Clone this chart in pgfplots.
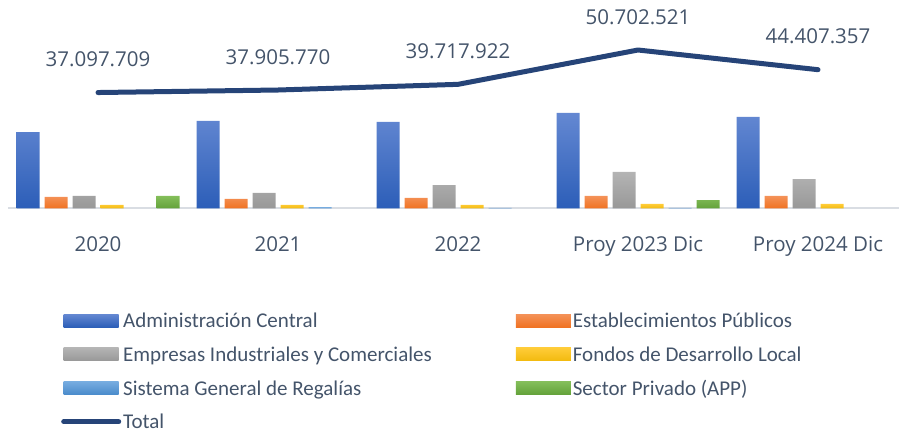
\documentclass[border=0pt]{standalone}
\usepackage{pgfplots}
\pgfplotsset{compat=1.18}
\usepackage{pgfplotstable}
\usepackage{fontspec}
\setmainfont{Carlito}
\newfontfamily\tickfont{Open Sans}
\definecolor{lab}{HTML}{44546A}
\definecolor{axisgray}{HTML}{D9DDE3}
\definecolor{totalc}{HTML}{264478}

\pgfplotsset{
  barlegend/.style={legend image code/.code={\path[##1, draw=none] (0pt,-6.5pt) rectangle (55pt,6.5pt);}},
  linelegend/.style={legend image code/.code={\draw[##1] (0pt,0pt) -- (55pt,0pt);}},
}

\pgfplotstableread{
x y lab
0 37.097709 37.097.709
1 37.905770 37.905.770
2 39.717922 39.717.922
3 50.702521 50.702.521
4 44.407357 44.407.357
}\totaltab

\begin{document}
\begin{tikzpicture}
\begin{axis}[name=ax, scale only axis, width=891pt, height=208.5pt,
  xmin=-0.5, xmax=4.45, ymin=0, ymax=66.7, enlargelimits=false, clip=false,
  ybar=5pt, bar width=23pt,
  axis x line*=bottom, axis y line=none,
  x axis line style={draw=axisgray, line width=2pt},
  xtick={0,1,2,3,4},
  xticklabels={2020,2021,2022,Proy 2023 Dic,Proy 2024 Dic},
  xtick style={draw=none}, ytick=\empty,
  xticklabel style={font=\tickfont\fontsize{20.5}{24}\selectfont, text=lab, anchor=base, yshift=-38.5pt},
  legend columns=2, legend cell align=left,
  legend style={draw=none, fill=none, at={(0,0)}, anchor=north west, xshift=50pt, yshift=-100pt,
    font=\fontsize{21}{25}\selectfont, text=lab, row sep=13.7pt,
    nodes={text height=15pt, text depth=1pt, inner sep=2pt},
    /tikz/every even column/.append style={column sep=82pt}},
  every axis plot/.append style={draw=none},
  barlegend,
]
\addplot[top color={rgb,255:red,100;green,136;blue,210}, bottom color={rgb,255:red,44;green,94;blue,184}]
 coordinates {(0,24.4) (1,28.0) (2,27.7) (3,30.6) (4,29.3)};
\addlegendentry{Administración Central}
\addplot[top color={rgb,255:red,244;green,146;blue,88}, bottom color={rgb,255:red,240;green,114;blue,34}]
 coordinates {(0,3.68) (1,3.04) (2,3.36) (3,4.0) (4,4.0)};
\addlegendentry{Establecimientos Públicos}
\addplot[top color={rgb,255:red,180;green,180;blue,180}, bottom color={rgb,255:red,152;green,152;blue,152}]
 coordinates {(0,4.0) (1,4.96) (2,7.5) (3,11.7) (4,9.4)};
\addlegendentry{Empresas Industriales y Comerciales}
\addplot[top color={rgb,255:red,255;green,204;blue,56}, bottom color={rgb,255:red,242;green,186;blue,14}]
 coordinates {(0,1.12) (1,1.12) (2,1.12) (3,1.44) (4,1.44)};
\addlegendentry{Fondos de Desarrollo Local}
\addplot[top color={rgb,255:red,118;green,172;blue,224}, bottom color={rgb,255:red,74;green,139;blue,203}]
 coordinates {(1,0.48) (2,0.16) (3,0.16)};
\addlegendentry{Sistema General de Regalías}
\addplot[top color={rgb,255:red,132;green,190;blue,90}, bottom color={rgb,255:red,99;green,162;blue,58}]
 coordinates {(0,4.0) (3,2.7)};
\addlegendentry{Sector Privado (APP)}
\addplot[sharp plot, draw=totalc, line width=5pt, line cap=round, line join=round,
  linelegend,
  point meta=explicit symbolic, nodes near coords,
  every node near coord/.append style={font=\tickfont\fontsize{20.5}{24}\selectfont, text=lab, anchor=base, yshift=26pt}]
 table[x=x, y=y, meta=lab] {\totaltab};
\addlegendentry{Total}
\end{axis}
\pgfresetboundingbox
\path ([xshift=-8pt]ax.north west) rectangle ([yshift=-221.5pt]ax.south east);
\end{tikzpicture}
\end{document}
